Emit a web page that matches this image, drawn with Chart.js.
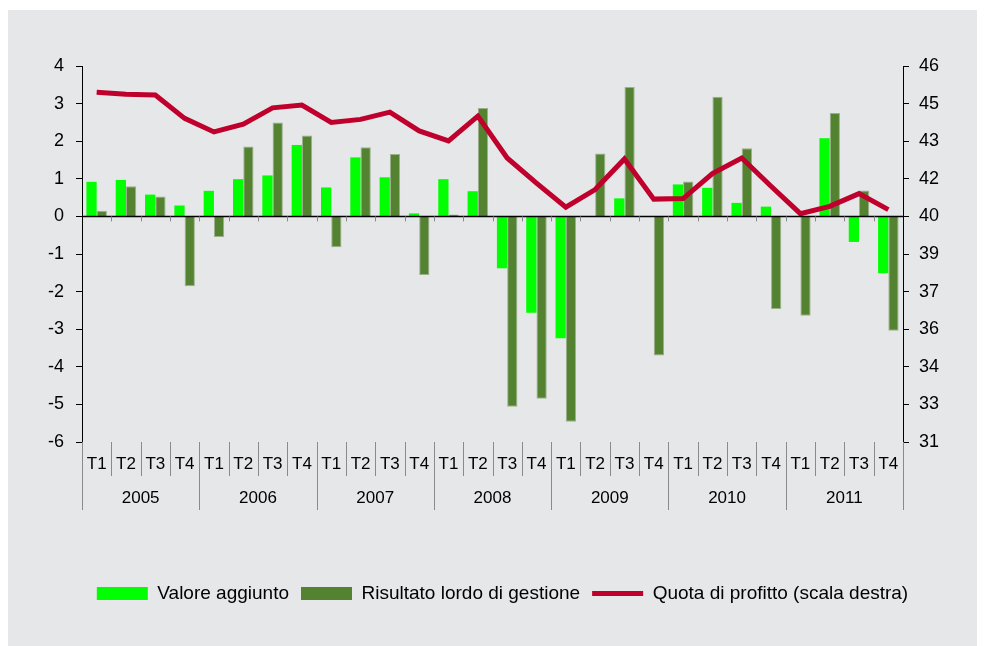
<!DOCTYPE html>
<html>
<head>
<meta charset="utf-8">
<script src="https://cdn.jsdelivr.net/npm/chart.js@4.4.1/dist/chart.umd.min.js"></script>
<style>
  html, body { margin: 0; padding: 0; background: #ffffff; }
  #panel { position: absolute; left: 8px; top: 10px; width: 969px; height: 636px; background: #E6E7E9; }
  canvas { display: block; }
</style>
</head>
<body>
<div id="panel"><canvas id="c" width="969" height="636"></canvas></div>
<script>
const quarters = ["T1","T2","T3","T4","T1","T2","T3","T4","T1","T2","T3","T4","T1","T2","T3","T4","T1","T2","T3","T4","T1","T2","T3","T4","T1","T2","T3","T4"];
const years = ["2005","2006","2007","2008","2009","2010","2011"];
const valoreAggiunto = [0.92,0.97,0.58,0.29, 0.68,0.99,1.09,1.90, 0.77,1.57,1.04,0.08, 0.99,0.67,-1.38,-2.56, -3.24,0.0,0.48,0.0, 0.85,0.76,0.36,0.26, 0.0,2.08,-0.68,-1.51];
const risultatoLordo = [0.15,0.80,0.53,-1.86, -0.55,1.86,2.50,2.15, -0.82,1.84,1.66,-1.56, 0.05,2.88,-5.06,-4.85, -5.46,1.67,3.44,-3.70, 0.93,3.18,1.81,-2.46, -2.64,2.75,0.69,-3.04];
const quotaProfitto = [44.95,44.87,44.84,43.91, 43.37,43.68,44.33,44.44, 43.75,43.87,44.16,43.41, 43.01,44.00,42.33,41.33, 40.37,41.07,42.29,40.69, 40.71,41.71,42.33,41.20, 40.11,40.40,40.91,40.27];
const seriesNames = ["Valore aggiunto","Risultato lordo di gestione","Quota di profitto (scala destra)"];

const FONT = "'Liberation Sans', Arial, sans-serif";

const axisDecor = {
  id: 'axisDecor',
  afterDatasetsDraw(chart) {
    const ctx = chart.ctx, x = chart.scales.x, y = chart.scales.y, area = chart.chartArea;
    const n = quarters.length;
    const y0 = y.getPixelForValue(0);
    ctx.save();
    ctx.strokeStyle = '#000';
    ctx.lineWidth = 1.5;
    ctx.beginPath(); ctx.moveTo(area.left, y0); ctx.lineTo(area.right, y0); ctx.stroke();
    const step = (x.getPixelForValue(1) - x.getPixelForValue(0));
    for (let i = 0; i <= n; i++) {
      const bx = Math.round(x.getPixelForValue(0) - step / 2 + i * step) + 0.5;
      if (i > 0 && i < n) {
        ctx.strokeStyle = '#888';
        ctx.lineWidth = 1;
        ctx.beginPath(); ctx.moveTo(bx, y0); ctx.lineTo(bx, y0 + 5); ctx.stroke();
      }
      ctx.strokeStyle = '#8a8a8a';
      ctx.lineWidth = 1;
      const len = (i % 4 === 0) ? 68 : 34;
      ctx.beginPath(); ctx.moveTo(bx, area.bottom); ctx.lineTo(bx, area.bottom + len); ctx.stroke();
    }
    ctx.fillStyle = '#000';
    ctx.font = '17px ' + FONT;
    ctx.textAlign = 'center';
    ctx.textBaseline = 'middle';
    years.forEach((yr, k) => {
      const cx = (x.getPixelForValue(4 * k) + x.getPixelForValue(4 * k + 3)) / 2;
      ctx.fillText(yr, cx, area.bottom + 56);
    });
    ctx.restore();
  }
};

new Chart(document.getElementById('c'), {
  data: {
    labels: quarters,
    datasets: [
      { type: 'bar', label: seriesNames[0], data: valoreAggiunto, backgroundColor: '#00FF00', borderWidth: 0, yAxisID: 'y', order: 2 },
      { type: 'bar', label: seriesNames[1], data: risultatoLordo, backgroundColor: '#538230', borderColor: '#9DB08C', borderWidth: 1, yAxisID: 'y', order: 2 },
      { type: 'line', label: seriesNames[2], data: quotaProfitto, borderColor: '#C0002C', backgroundColor: '#C0002C', borderWidth: 5, pointRadius: 0, tension: 0, yAxisID: 'y1', order: 0 }
    ]
  },
  options: {
    responsive: false,
    animation: false,
    layout: { padding: { top: 56, bottom: 33, left: 20, right: 0 } },
    datasets: { bar: { barPercentage: 1.0, categoryPercentage: 0.7 } },
    plugins: {
      tooltip: { enabled: false },
      legend: {
        position: 'bottom',
        labels: {
          font: { size: 19, family: FONT },
          color: '#000',
          usePointStyle: true,
          pointStyleWidth: 51,
          boxHeight: 13,
          padding: 12,
          generateLabels(chart) {
            return chart.data.datasets.map((ds, i) => ({
              text: ds.label,
              fillStyle: i === 2 ? 'rgba(0,0,0,0)' : ds.backgroundColor,
              strokeStyle: i === 2 ? ds.borderColor : 'rgba(0,0,0,0)',
              lineWidth: i === 2 ? 5 : 0,
              pointStyle: i === 2 ? 'line' : 'rect',
              hidden: false,
              datasetIndex: i,
              fontColor: '#000'
            }));
          }
        }
      }
    },
    scales: {
      x: {
        type: 'category',
        grid: { display: false },
        border: { display: false },
        ticks: { font: { size: 17, family: FONT }, color: '#000', padding: 4, maxRotation: 0, autoSkip: false },
        afterFit(scale) { scale.height = 130; }
      },
      y: {
        position: 'left',
        min: -6, max: 4,
        ticks: { stepSize: 1, font: { size: 18, family: FONT }, color: '#000', padding: 12 },
        grid: { drawOnChartArea: false, drawTicks: true, tickLength: 6, color: '#000' },
        border: { display: true, color: '#000', width: 1 },
        afterFit(scale) { scale.width = 54; }
      },
      y1: {
        position: 'right',
        min: 31, max: 46,
        ticks: { stepSize: 1.5, font: { size: 18, family: FONT }, color: '#000', padding: 10,
          callback: (v) => String(Math.round(v)) },
        grid: { drawOnChartArea: false, drawTicks: true, tickLength: 6, color: '#000' },
        border: { display: true, color: '#000', width: 1 },
        afterFit(scale) { scale.width = 74; }
      }
    }
  },
  plugins: [axisDecor]
});
</script>
</body>
</html>
